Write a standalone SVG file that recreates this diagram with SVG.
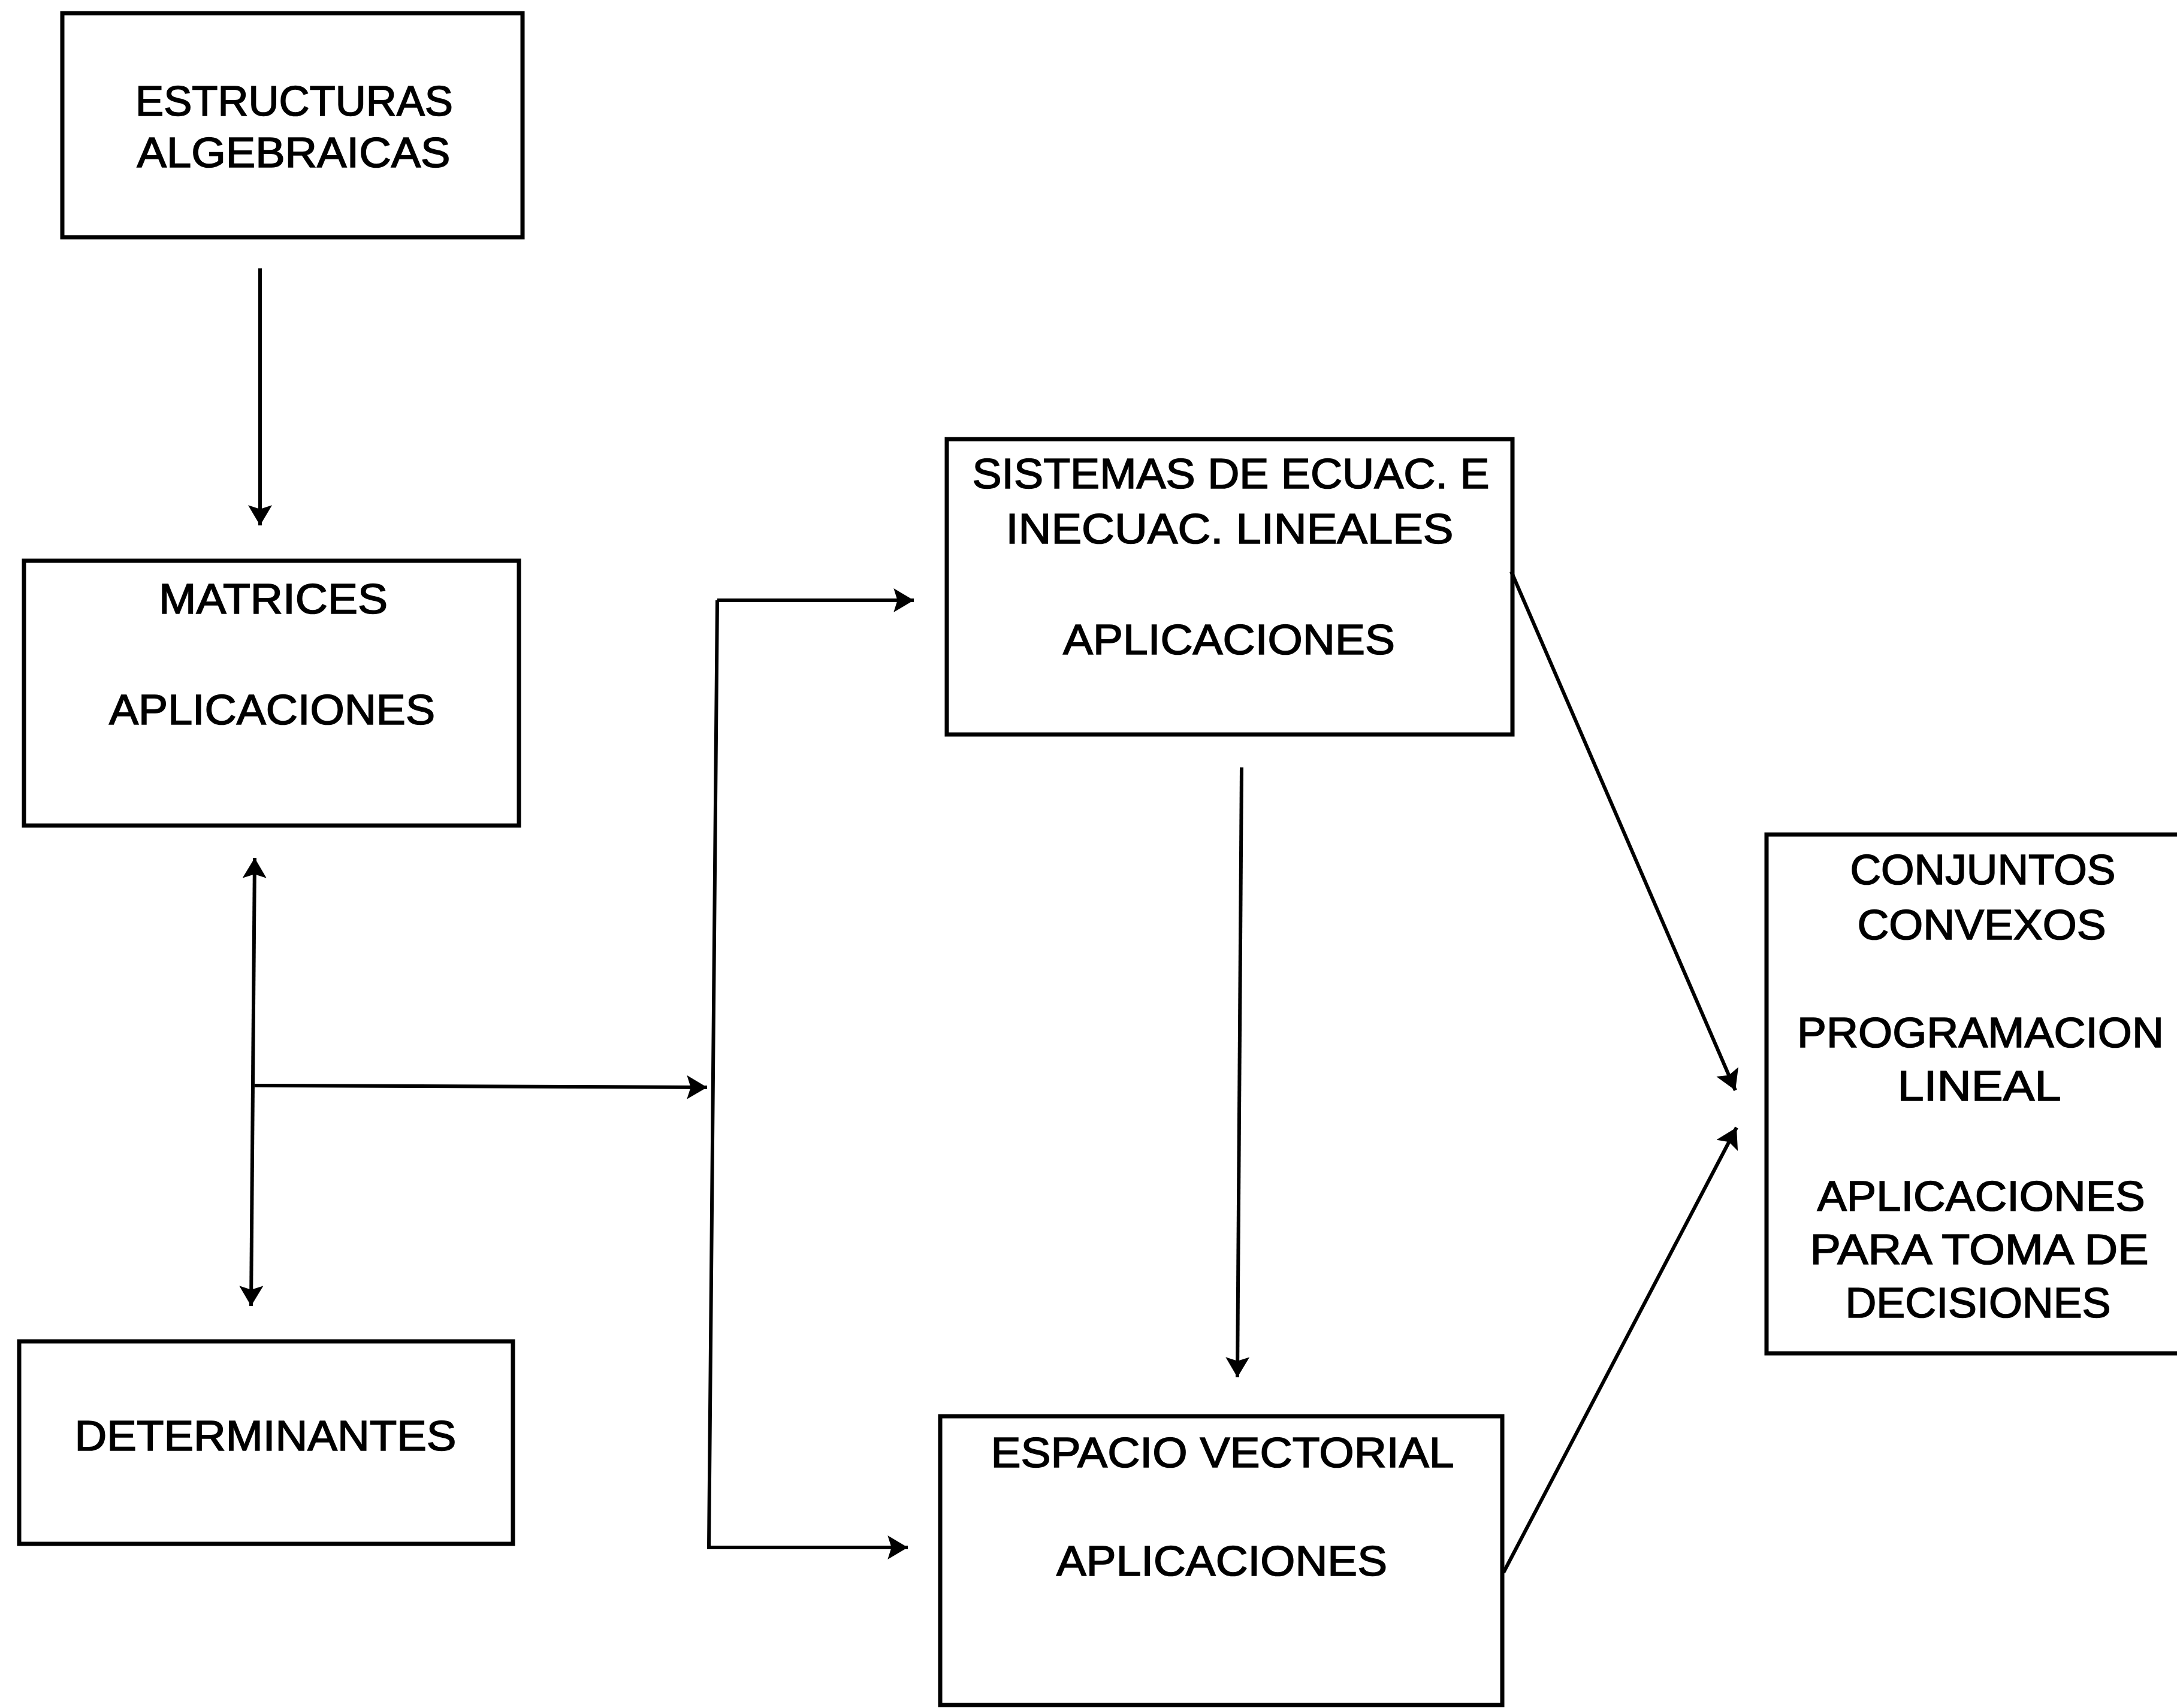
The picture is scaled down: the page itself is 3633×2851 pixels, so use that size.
<svg xmlns="http://www.w3.org/2000/svg" width="3633" height="2851" viewBox="0 0 3633 2851">
<style>
.box{fill:none;stroke:#000;stroke-width:7}
.t{font-family:"Liberation Sans",Arial,sans-serif;font-size:70px;fill:#000;stroke:#000;stroke-width:1.6;text-anchor:middle}
.c{fill:none;stroke:#000;stroke-width:6;stroke-linejoin:miter}
</style>
<defs>
<marker id="ah" markerUnits="userSpaceOnUse" markerWidth="36" markerHeight="40" refX="32" refY="19" orient="auto-start-reverse" viewBox="0 0 34 38">
<path d="M0,0 L32,19 L0,38 L6,19 z" fill="#000"/>
</marker>
</defs>
<rect width="3633" height="2851" fill="#fff"/>
<g id="connectors">
<path class="c" d="M434,448 L434,877" marker-end="url(#ah)"/>
<path class="c" d="M425,1432 L419,2180" marker-start="url(#ah)" marker-end="url(#ah)"/>
<path class="c" d="M425,1812 L1180,1815" marker-end="url(#ah)"/>
<path class="c" d="M1197,1002 L1525,1002" marker-end="url(#ah)"/>
<path class="c" d="M1197,1002 L1183,2583 L1515,2583" marker-end="url(#ah)"/>
<path class="c" d="M2072,1281 L2065,2299" marker-end="url(#ah)"/>
<path class="c" d="M2522,954 L2896,1820" marker-end="url(#ah)"/>
<path class="c" d="M2509,2625 L2898,1882" marker-end="url(#ah)"/>
</g>
<g id="estructuras">
<rect class="box" x="104" y="22" width="768" height="374"/>
<text class="t" x="491" y="193" textLength="530" lengthAdjust="spacingAndGlyphs">ESTRUCTURAS</text>
<text class="t" x="490" y="279" textLength="523" lengthAdjust="spacingAndGlyphs">ALGEBRAICAS</text>
</g>
<g id="matrices">
<rect class="box" x="40" y="936" width="826" height="442"/>
<text class="t" x="456" y="1024" textLength="382" lengthAdjust="spacingAndGlyphs">MATRICES</text>
<text class="t" x="454" y="1209" textLength="544" lengthAdjust="spacingAndGlyphs">APLICACIONES</text>
</g>
<g id="determinantes">
<rect class="box" x="32" y="2239" width="824" height="338"/>
<text class="t" x="443" y="2421" textLength="637" lengthAdjust="spacingAndGlyphs">DETERMINANTES</text>
</g>
<g id="sistemas">
<rect class="box" x="1580" y="733" width="944" height="493"/>
<text class="t" x="2054" y="815" textLength="863" lengthAdjust="spacingAndGlyphs">SISTEMAS DE ECUAC. E</text>
<text class="t" x="2052" y="907" textLength="747" lengthAdjust="spacingAndGlyphs">INECUAC. LINEALES</text>
<text class="t" x="2051" y="1092" textLength="554" lengthAdjust="spacingAndGlyphs">APLICACIONES</text>
</g>
<g id="espacio">
<rect class="box" x="1569" y="2364" width="938" height="482"/>
<text class="t" x="2040" y="2449" textLength="773" lengthAdjust="spacingAndGlyphs">ESPACIO VECTORIAL</text>
<text class="t" x="2039" y="2630" textLength="552" lengthAdjust="spacingAndGlyphs">APLICACIONES</text>
</g>
<g id="conjuntos">
<rect class="box" x="2948" y="1393" width="760" height="866"/>
<text class="t" x="3309" y="1476" textLength="443" lengthAdjust="spacingAndGlyphs">CONJUNTOS</text>
<text class="t" x="3307" y="1568" textLength="415" lengthAdjust="spacingAndGlyphs">CONVEXOS</text>
<text class="t" x="3305" y="1748" textLength="612" lengthAdjust="spacingAndGlyphs">PROGRAMACION</text>
<text class="t" x="3303" y="1837" textLength="273" lengthAdjust="spacingAndGlyphs">LINEAL</text>
<text class="t" x="3306" y="2021" textLength="547" lengthAdjust="spacingAndGlyphs">APLICACIONES</text>
<text class="t" x="3303" y="2110" textLength="565" lengthAdjust="spacingAndGlyphs">PARA TOMA DE</text>
<text class="t" x="3301" y="2199" textLength="443" lengthAdjust="spacingAndGlyphs">DECISIONES</text>
</g>
</svg>
